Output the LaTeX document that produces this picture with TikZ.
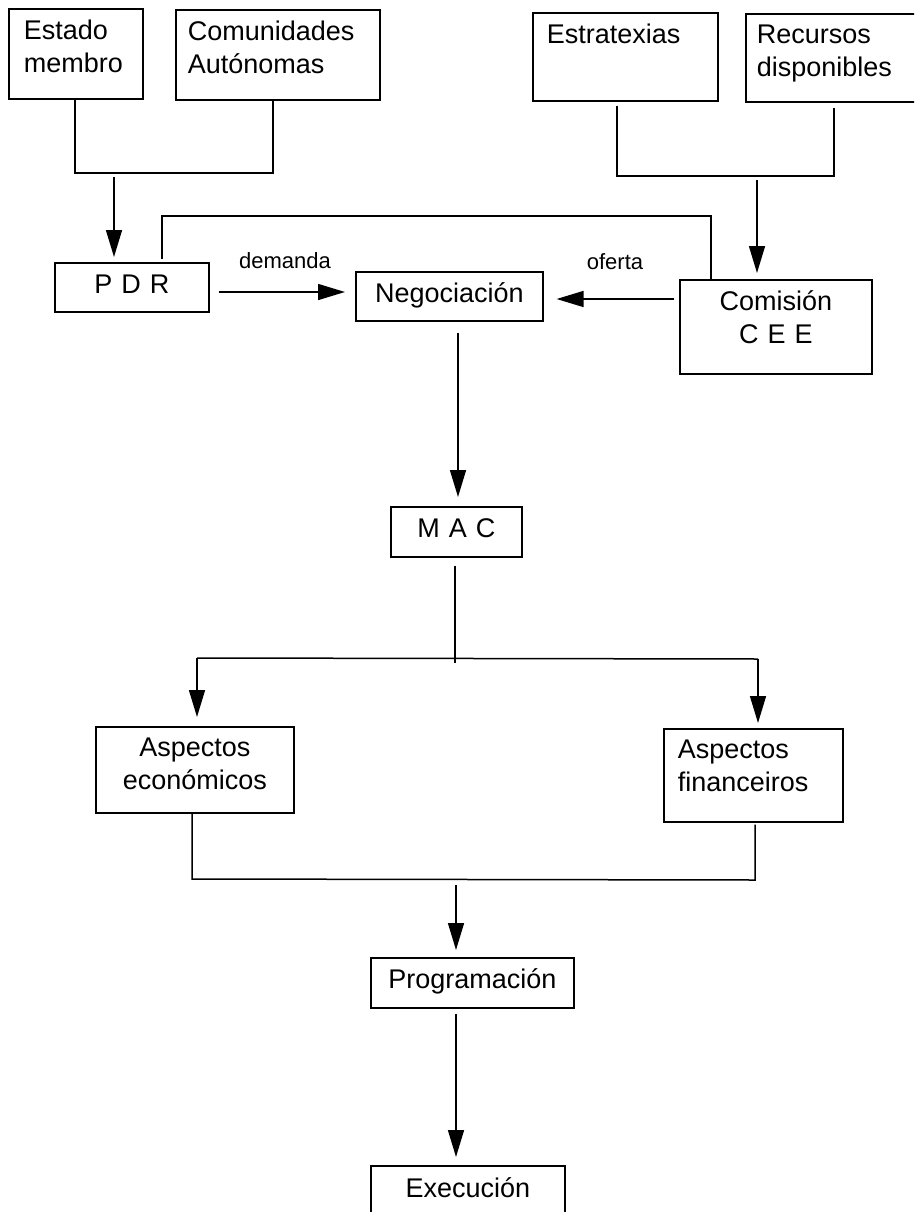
\documentclass[tikz,border=0pt]{standalone}
\usepackage{fontspec}
\setmainfont{Liberation Sans}
\usetikzlibrary{arrows.meta}
\begin{document}
\begin{tikzpicture}[x=1pt,y=-1pt,
  every node/.style={font=\fontsize{27}{33}\selectfont},
  bx/.style={draw, line width=1.6pt, inner ysep=0pt, anchor=north west},
  lbl/.style={font=\fontsize{22}{26}\selectfont, anchor=base},
  ln/.style={line width=1.5pt},
  arr/.style={line width=1.5pt, -{Triangle[length=27pt,width=16pt]}}]
\useasboundingbox (0,0) rectangle (914,1212);
\clip (0,0) rectangle (914,1212);
% boxes
\node[bx, inner xsep=15pt, text width=104pt, align=left, text height=31pt, text depth=59pt] (estado) at (8,8) {Estado\\membro};
\node[bx, inner xsep=12pt, text width=180pt, align=left, text height=31pt, text depth=59pt] (comun) at (175,9) {Comunidades\\Autónomas};
\node[bx, inner xsep=14pt, text width=157pt, align=left, text height=31pt, text depth=57pt] (estrat) at (532,12) {Estratexias};
\node[bx, inner xsep=11pt, text width=168pt, align=left, text height=30pt, text depth=58pt] (recur) at (745,13) {Recursos\\disponibles};
\node[bx, inner xsep=0pt, text width=154pt, align=center, text height=31pt, text depth=18pt] (pdr) at (54,262) {P D R};
\node[bx, inner xsep=0pt, text width=187pt, align=center, text height=31pt, text depth=18pt] (neg) at (355,271) {Negociación};
\node[bx, inner xsep=0pt, text width=192pt, align=center, text height=31pt, text depth=63pt] (comis) at (679,279) {Comisión\\C E E};
\node[bx, inner xsep=0pt, text width=131pt, align=center, text height=31pt, text depth=19pt] (mac) at (390,506) {M A C};
\node[bx, inner xsep=0pt, text width=198pt, align=center, text height=30pt, text depth=56pt] (econ) at (95,726) {Aspectos\\económicos};
\node[bx, inner xsep=14pt, text width=151pt, align=left, text height=30pt, text depth=63pt] (fin) at (663,728) {Aspectos\\financeiros};
\node[bx, inner xsep=0pt, text width=203pt, align=center, text height=31pt, text depth=19pt] (prog) at (370,957) {Programación};
\node[bx, inner xsep=0pt, text width=194pt, align=center, text height=32pt, text depth=40pt] (exec) at (370,1165) {Execución};
% labels
\node[lbl] (demanda) at (285,268) {demanda};
\node[lbl] (oferta) at (615,269) {oferta};
% junction coordinates
\coordinate (j1) at (75,173);
\coordinate (j2) at (273,173);
\coordinate (j3) at (114,177);
\coordinate (j4) at (617,176);
\coordinate (j5) at (834,176);
\coordinate (j6) at (757,180);
\coordinate (j7) at (162,216);
\coordinate (j8) at (711,216);
\coordinate (j9) at (286,292);
\coordinate (j10) at (615,299);
\coordinate (j11) at (458,400);
\coordinate (j12) at (455,663);
\coordinate (j13) at (197,658);
\coordinate (j14) at (758,659);
\coordinate (j15) at (192,879);
\coordinate (j16) at (755,880);
\coordinate (j17) at (456,885);
% connectors
\draw[ln] (estado.south -| j1) -- (j1) -- (j2) -- (comun.south -| j2);
\draw[arr, shorten >=5pt] (j3) -- (pdr.north -| j3);
\draw[ln] ([yshift=-4pt]estrat.south -| j4) -- (j4) -- (j5) -- ([yshift=-5pt]recur.south -| j5);
\draw[arr, shorten >=6pt] (j6) -- (comis.north -| j6);
\draw[ln] ([yshift=3pt]pdr.north -| j7) -- (j7) -- (j8) -- (comis.north -| j8);
\draw[arr, shorten <=9pt, shorten >=10pt] (pdr.east |- j9) -- (neg.west |- j9);
\draw[arr, shorten <=5pt, shorten >=13pt] (comis.west |- j10) -- (neg.east |- j10);
\draw[arr, shorten <=11pt, shorten >=9pt] (neg.south -| j11) -- (mac.north -| j11);
\draw[ln, shorten <=8pt] (mac.south -| j12) -- (j12);
\draw[ln] (j13) -- (j14);
\draw[arr, shorten >=9pt] (j13) -- (econ.north -| j13);
\draw[arr, shorten >=5pt] (j14) -- (fin.north -| j14);
\draw[ln] (econ.south -| j15) -- (j15) -- (j16) -- ([yshift=-2pt]fin.south -| j16);
\draw[arr, shorten >=7pt] (j17) -- (prog.north -| j17);
\draw[arr, shorten <=5pt, shorten >=8pt] (prog.south -| j17) -- (exec.north -| j17);
\end{tikzpicture}
\end{document}
